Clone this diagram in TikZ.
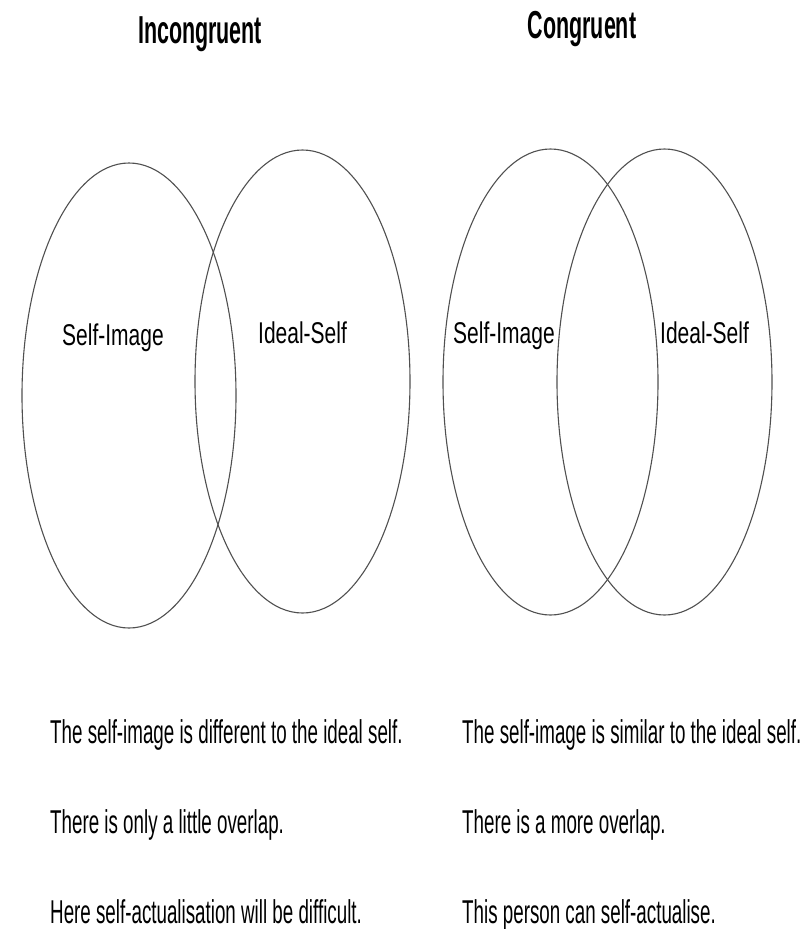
\documentclass[tikz,border=0pt]{standalone}
\usepackage{fontspec}
\setmainfont{Liberation Sans}
\usetikzlibrary{positioning}
\definecolor{rim}{RGB}{80,80,80}
\newcommand{\narrowtext}[2]{\scalebox{#1}[1]{#2}}

\begin{document}
\begin{tikzpicture}[x=1pt, y=-1pt,
    headline/.style={anchor=base, inner sep=0pt, font=\fontsize{39}{42}\selectfont\bfseries},
    setlabel/.style={anchor=base west, inner sep=0pt, font=\fontsize{30}{34}\selectfont},
    note/.style={anchor=base west, inner sep=0pt, font=\fontsize{33}{36}\selectfont},
    setline/.style={draw=rim, line width=1.1pt}]
  \useasboundingbox (0,0) rectangle (809,929);

  % incongruent side
  \node[headline] (inctitle) at (200,43) {\narrowtext{0.55}{Incongruent}};
  \draw[setline] (129,395.5) ellipse [x radius=107, y radius=232.5];
  \draw[setline] (302.5,381.5) ellipse [x radius=107.5, y radius=231.5];
  \node[setlabel] (incself) at (62,345) {\narrowtext{0.70}{Self-Image}};
  \node[setlabel] (incideal) at (258,343) {\narrowtext{0.70}{Ideal-Self}};

  % congruent side
  \node[headline] (contitle) at (582,38) {\narrowtext{0.55}{Congruent}};
  \draw[setline] (550.5,382) ellipse [x radius=107.5, y radius=233];
  \draw[setline] (664.5,382) ellipse [x radius=107.5, y radius=233];
  \node[setlabel] (conself) at (453,343) {\narrowtext{0.70}{Self-Image}};
  \node[setlabel] (conideal) at (660,343) {\narrowtext{0.70}{Ideal-Self}};

  % notes
  \node[note] (incnoteA) at (50,743) {\narrowtext{0.569}{The self-image is different to the ideal self.}};
  \node[note] (incnoteB) at (50,833) {\narrowtext{0.569}{There is only a little overlap.}};
  \node[note] (incnoteC) at (50,923) {\narrowtext{0.569}{Here self-actualisation will be difficult.}};
  \node[note] (connoteA) at (462,743) {\narrowtext{0.569}{The self-image is similar to the ideal self.}};
  \node[note] (connoteB) at (462,833) {\narrowtext{0.569}{There is a more overlap.}};
  \node[note] (connoteC) at (462,923) {\narrowtext{0.569}{This person can self-actualise.}};
\end{tikzpicture}
\end{document}
